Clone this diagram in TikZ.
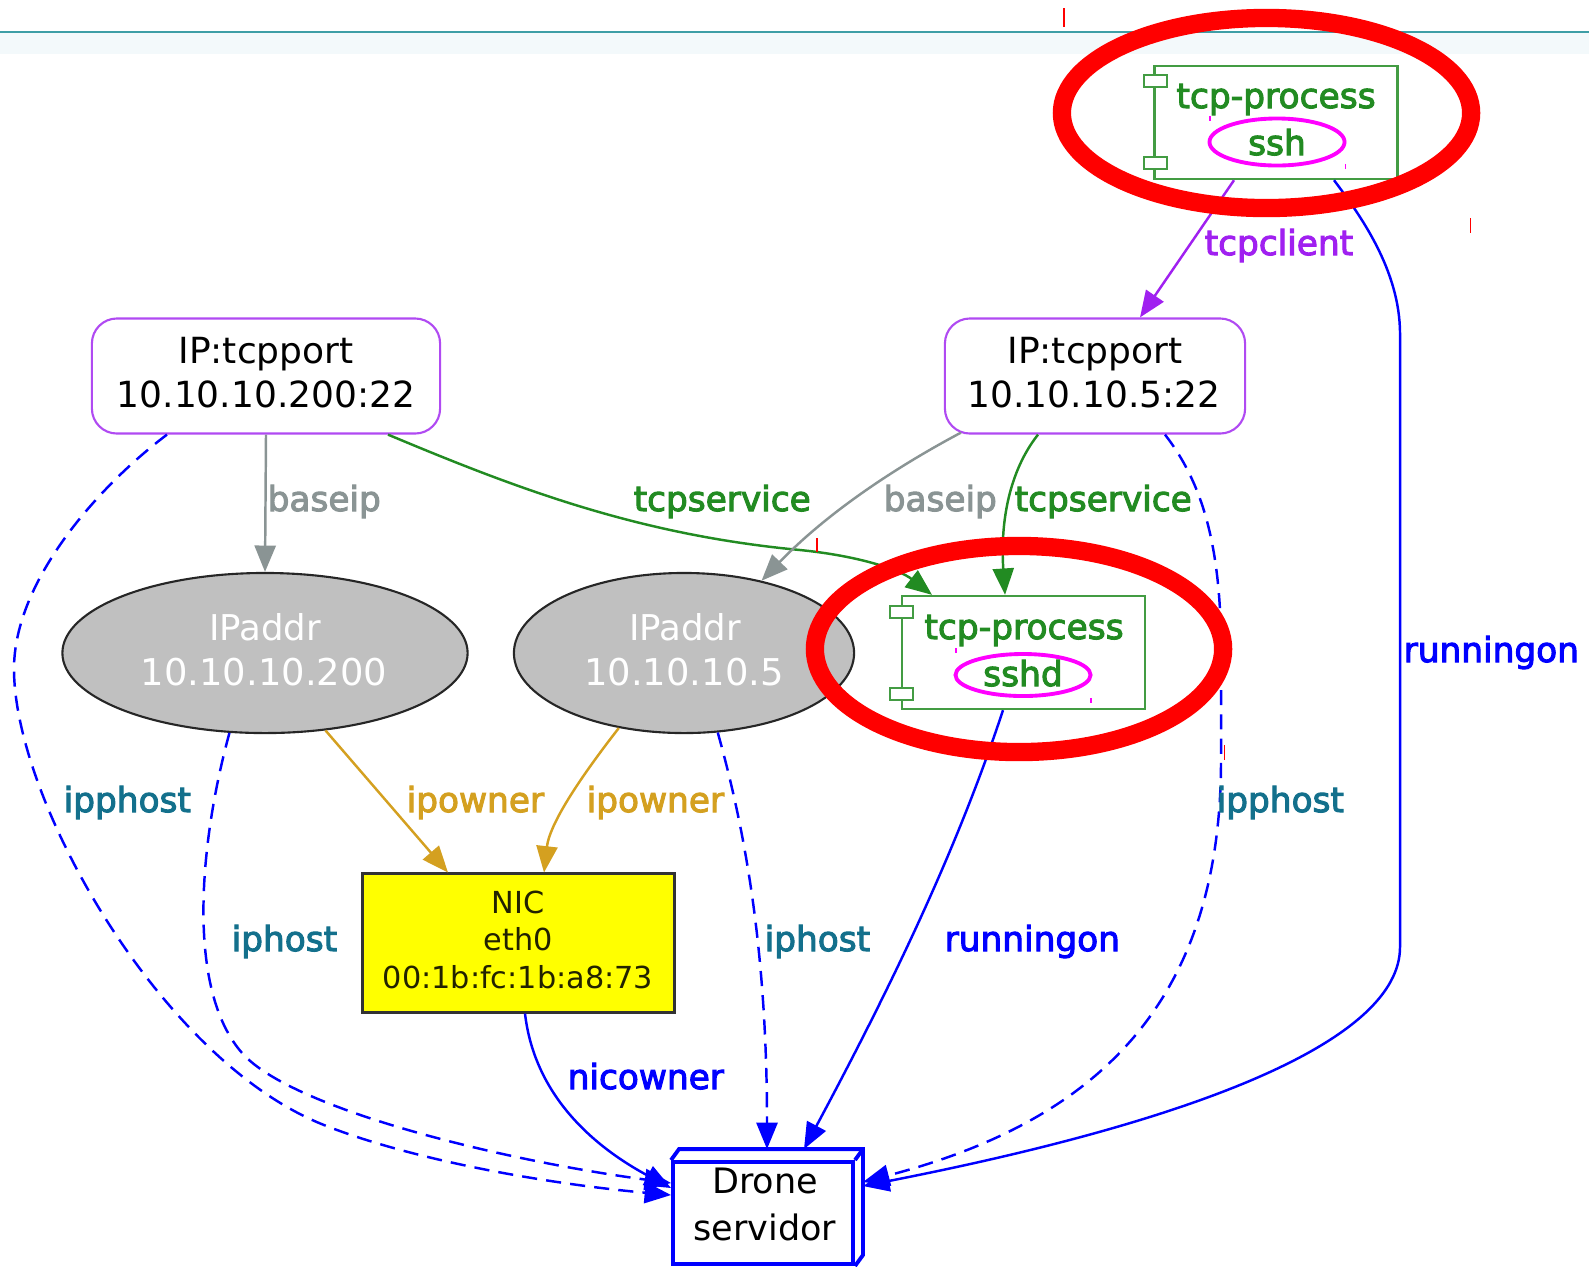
\documentclass[tikz,border=0pt]{standalone}
\usepackage{fontspec}
\setmainfont{DejaVu Sans}
\newfontfamily\lblfont{DejaVu Sans}[FakeBold=3]
\usetikzlibrary{arrows.meta,shapes.geometric}
\definecolor{gvpurple}{HTML}{A020F0}
\definecolor{gvpurpleB}{HTML}{B04AF2}
\definecolor{gvgreen}{HTML}{228B22}
\definecolor{gvgray}{HTML}{8A9494}
\definecolor{gvgold}{HTML}{D4A020}
\definecolor{gvteal}{HTML}{13708C}
\definecolor{gvblue}{HTML}{0000FF}
\definecolor{gvmag}{HTML}{FF00FF}
\definecolor{gvyellow}{HTML}{FFFF00}
\definecolor{topline}{HTML}{3E9EA6}
\definecolor{topband}{HTML}{F3F9FB}
\definecolor{ipfill}{HTML}{C0C0C0}
\definecolor{nicborder}{HTML}{333333}
\definecolor{nictext}{HTML}{222200}
\begin{document}
\begin{tikzpicture}[x=0.01cm,y=-0.01cm,
  edge/.style={line width=0.7pt,-{Triangle[length=7.5pt,width=6pt]}},
  dashedge/.style={edge,gvblue,dash pattern=on 4.3pt off 2.6pt},
  elabel/.style={anchor=base west,inner sep=0pt,font=\fontsize{9.76}{11}\lblfont},
  txt/.style={anchor=base,inner sep=0pt},
  porttext/.style={txt,font=\fontsize{10.24}{12}\selectfont},
  iptext/.style={txt,text=white,font=\fontsize{10.1}{12}\selectfont},
  ipnum/.style={txt,text=white,font=\fontsize{10.5}{13}\selectfont},
  proctext/.style={txt,text=gvgreen,font=\fontsize{9.8}{11}\lblfont},
  nictxt/.style={txt,text=nictext,font=\fontsize{8.62}{10}\selectfont},
  dronetext/.style={txt,font=\fontsize{9.96}{12}\selectfont},
  portbox/.style={draw=gvpurpleB,line width=0.6pt,rounded corners=0.25cm,inner sep=0pt,minimum height=1.15cm},
  ipell/.style={ellipse,draw=black!85,fill=ipfill,line width=0.6pt,inner sep=0pt,minimum height=1.6cm},
  compbox/.style={draw=gvgreen!85,line width=0.65pt,inner sep=0pt,minimum width=2.43cm,minimum height=1.13cm},
  compport/.style={draw=gvgreen!85,fill=white,line width=0.65pt},
  procell/.style={ellipse,draw=gvmag,line width=1.1pt,inner sep=0pt,minimum width=1.35cm},
  ring/.style={draw=red,line width=5.2pt},
  tick/.style={draw=red,line width=0.3pt}
]
\useasboundingbox (0,0) rectangle (1589,1266);

% top decoration
\fill[topband] (0,33) rectangle (1589,54);
\draw[topline,line width=0.6pt] (0,32) -- (1589,32);
\draw[tick] (1064,8) -- (1064,27);

% IP:tcpport nodes
\node[portbox,minimum width=3.48cm] (ptA) at (266,376) {};
\node[porttext] (ptA1) at (266,363) {IP:tcpport};
\node[porttext] (ptA2) at (266,407) {10.10.10.200:22};
\node[portbox,minimum width=3.00cm] (ptB) at (1095,376) {};
\node[porttext] (ptB1) at (1095,363) {IP:tcpport};
\node[porttext] (ptB2) at (1094,407) {10.10.10.5:22};

% IPaddr ellipses
\node[ipell,minimum width=4.05cm] (ipA) at (265,653) {};
\node[iptext] (ipA1) at (265,640) {IPaddr};
\node[ipnum] (ipA2) at (264,685) {10.10.10.200};
\node[ipell,minimum width=3.40cm] (ipB) at (684,653) {};
\node[iptext] (ipB1) at (685,640) {IPaddr};
\node[ipnum] (ipB2) at (684,685) {10.10.10.5};

% tcp-process components
\node[compbox] (pssh) at (1276,122.5) {};
\draw[compport] (1144,75) rectangle (1167,87);
\draw[compport] (1144,157) rectangle (1167,169);
\node[procell,minimum height=0.47cm] (essh) at (1277,142) {};
\node[proctext] (pssh1) at (1276,108) {tcp-process};
\node[proctext] (pssh2) at (1277,155) {ssh};

\node[compbox] (psshd) at (1023.5,652.5) {};
\draw[compport] (890,606) rectangle (913,618);
\draw[compport] (890,688) rectangle (913,700);
\node[procell,minimum height=0.42cm] (esshd) at (1023,675) {};
\node[proctext] (psshd1) at (1024,639) {tcp-process};
\node[proctext] (psshd2) at (1023,686) {sshd};

% NIC
\node[draw=nicborder,fill=gvyellow,line width=0.85pt,inner sep=0pt,minimum width=3.11cm,minimum height=1.38cm] (nic) at (518.5,943) {};
\node[nictxt] (nic1) at (518,913) {NIC};
\node[nictxt] (nic2) at (518,950) {eth0};
\node[nictxt] (nic3) at (518,988) {00:1b:fc:1b:a8:73};

% Drone
\node[draw=gvblue,fill=white,line width=1.1pt,inner sep=0pt,minimum width=1.80cm,minimum height=1.02cm] (drone) at (763,1213) {};
\draw[gvblue,line width=1.1pt,line join=miter]
  (drone.north west) -- ([shift={(8,-11)}]drone.north west) -- ([shift={(8,-11)}]drone.north east)
  -- ([shift={(8,-11)}]drone.south east) -- (drone.south east);
\draw[gvblue,line width=1.1pt] (drone.north east) -- ([shift={(8,-11)}]drone.north east);
\node[dronetext] (drone1) at (765,1193) {Drone};
\node[dronetext] (drone2) at (765,1240) {servidor};

% connectors
\draw[edge,gvpurple] ([shift={(-42,0)}]pssh.south) -- ([shift={(45,0)}]ptB.north);
\draw[edge,gvblue] ([shift={(58,0)}]pssh.south) .. controls (1360,215) and (1400,270) .. (1400,334)
  -- (1400,947) .. controls (1400,1040) and (1200,1120) .. ([shift={(8,-27)}]drone.east);
\draw[edge,gvgray] (ptA.south) -- (ipA.north);
\draw[edge,gvgreen] ([shift={(122,0)}]ptA.south) .. controls (520,490) and (640,535) .. (800,550)
  .. controls (860,556) and (900,570) .. ([shift={(-91.5,0)}]psshd.north);
\draw[edge,gvgray] ([shift={(-134,-2)}]ptB.south) .. controls (900,465) and (830,510) .. (ipB.43.3);
\draw[edge,gvgreen] ([shift={(-57,0)}]ptB.south) .. controls (1010,470) and (1000,520) .. ([shift={(-18.5,0)}]psshd.north);
\draw[dashedge] ([shift={(70,0)}]ptB.south) .. controls (1200,480) and (1221,540) .. (1221,650)
  -- (1221,760) .. controls (1221,1000) and (1100,1120) .. ([shift={(8,-31)}]drone.east);
\draw[dashedge] ([shift={(-99,0)}]ptA.south) .. controls (100,485) and (14,580) .. (14,669)
  .. controls (14,800) and (160,1060) .. (324,1125)
  .. controls (420,1163) and (560,1185) .. ([shift={(0,-18)}]drone.west);
\draw[dashedge] (ipA.-114.8) .. controls (200,840) and (185,990) .. (243,1054)
  .. controls (293,1109) and (500,1160) .. ([shift={(0,-30)}]drone.west);
\draw[edge,gvgold] (ipA.-52.5) -- ([shift={(-70.5,0)}]nic.north);
\draw[edge,gvgold] (ipB.-131.5) .. controls (590,765) and (550,820) .. ([shift={(25.5,0)}]nic.north);
\draw[dashedge] (ipB.-67.2) .. controls (745,830) and (767,950) .. ([shift={(4,-11)}]drone.north);
\draw[edge,gvblue] ([shift={(-20.5,0)}]psshd.south) .. controls (960,840) and (900,970) .. ([shift={(41,-11)}]drone.north);
\draw[edge,gvblue] ([shift={(6.5,0)}]nic.south) .. controls (535,1100) and (600,1150) .. ([shift={(0,-25)}]drone.west);

% connector labels
\node[elabel,gvgray] (lb1) at (267,511) {baseip};
\node[elabel,gvgreen] (lb2) at (633,511) {tcpservice};
\node[elabel,gvgray] (lb3) at (883,511) {baseip};
\node[elabel,gvgreen] (lb4) at (1014,511) {tcpservice};
\node[elabel,gvpurple] (lb5) at (1204,255) {tcpclient};
\node[elabel,gvblue] (lb6) at (1403,662) {runningon};
\node[elabel,gvteal] (lb7) at (63,812) {ipphost};
\node[elabel,gvgold] (lb8) at (406,812) {ipowner};
\node[elabel,gvgold] (lb9) at (586,812) {ipowner};
\node[elabel,gvteal] (lb10) at (1216,812) {ipphost};
\node[elabel,gvteal] (lb11) at (231,951) {iphost};
\node[elabel,gvteal] (lb12) at (764,951) {iphost};
\node[elabel,gvblue] (lb13) at (944,951) {runningon};
\node[elabel,gvblue] (lb14) at (567,1089) {nicowner};

% stray marks
\draw[tick] (1470,218) -- (1470,233);
\draw[tick] (817,538) -- (817,552);
\draw[tick] (1224,745) -- (1224,760);
\draw[gvmag,line width=0.3pt] (1210,116) -- (1210,121);
\draw[gvmag,line width=0.3pt] (1345,164) -- (1345,169);
\draw[gvmag,line width=0.3pt] (956,648) -- (956,653);
\draw[gvmag,line width=0.3pt] (1091,698) -- (1091,703);

% red highlight rings
\draw[ring] (1266.5,113) ellipse [x radius=2.045cm, y radius=0.95cm];
\draw[ring] (1019,649) ellipse [x radius=2.04cm, y radius=1.03cm];
\end{tikzpicture}
\end{document}
